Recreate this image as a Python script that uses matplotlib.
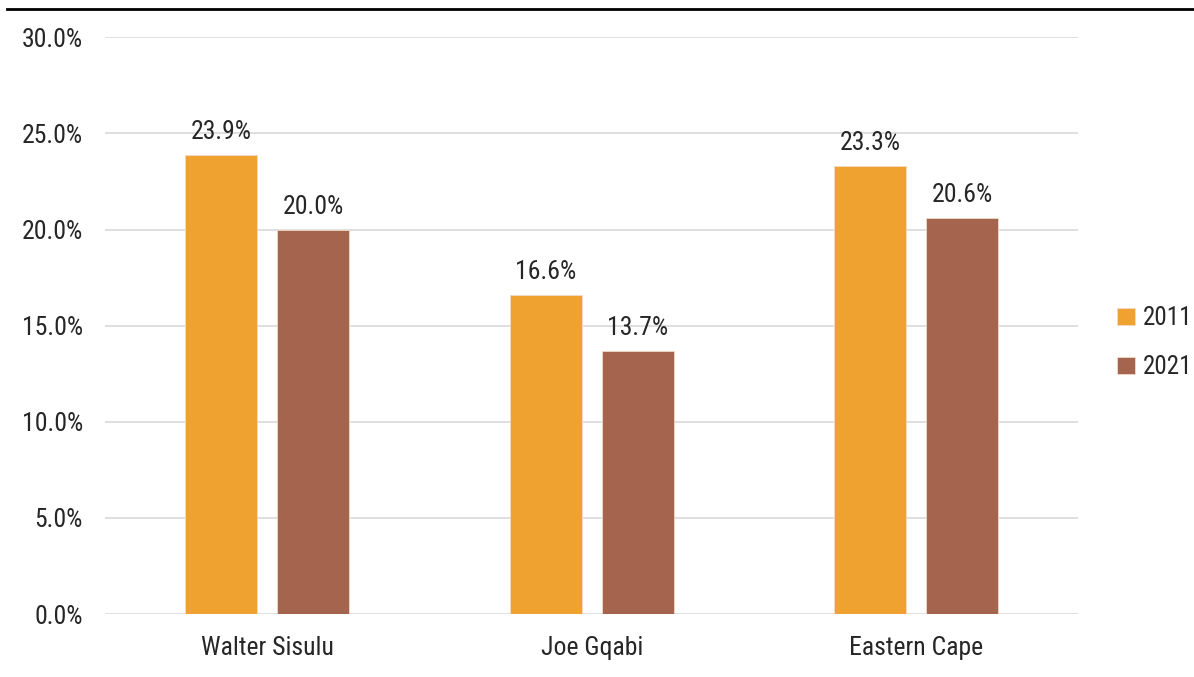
import matplotlib.pyplot as plt
import numpy as np
from matplotlib.lines import Line2D

categories = ["Walter Sisulu", "Joe Gqabi", "Eastern Cape"]
years = ["2011", "2021"]
values_2011 = [23.9, 16.6, 23.3]
values_2021 = [20.0, 13.7, 20.6]
y_ticks = [0, 5, 10, 15, 20, 25, 30]

COLORS = ["#EFA22F", "#A5644E"]
TEXT = "#262626"

plt.rcParams["font.family"] = ["Roboto Condensed", "DejaVu Sans"]

fig = plt.figure(figsize=(11.94, 6.77), dpi=100)
ax = fig.add_axes([0.088, 0.093, 0.815, 0.852])

x = np.arange(len(categories))
bar_w = 0.222
offset = 0.142

for i, (vals, year) in enumerate(zip([values_2011, values_2021], years)):
    pos = x + (offset if i else -offset)
    bars = ax.bar(pos, vals, width=bar_w, color=COLORS[i], label=year,
                  edgecolor="#F3D9C8", linewidth=0.6, zorder=3)
    for b, v in zip(bars, vals):
        ax.text(b.get_x() + b.get_width() / 2, v + 0.55, f"{v:.1f}%",
                ha="center", va="bottom", fontsize=18.5, color=TEXT)

ax.set_xlim(-0.5, 2.5)
ax.set_ylim(0, 30)
ax.set_yticks(y_ticks)
ax.set_yticklabels([f"{t:.1f}%" for t in y_ticks])
ax.set_xticks(x)
ax.set_xticklabels(categories)
ax.tick_params(axis="both", length=0, labelsize=18.5, colors=TEXT)
ax.tick_params(axis="y", pad=16)
ax.tick_params(axis="x", pad=16)
ax.grid(axis="y", color="#D9D9D9", linewidth=1.2, zorder=0)
for s in ax.spines.values():
    s.set_visible(False)

ax.legend(loc="center left", bbox_to_anchor=(1.04, 0.47), frameon=False,
          fontsize=18, handlelength=0.7, handleheight=0.7, handletextpad=0.35,
          labelspacing=1.0, borderaxespad=0, borderpad=0, labelcolor=TEXT)

# black rule at the top of the figure
fig.add_artist(Line2D([0.006, 1.0], [0.987, 0.987], color="black", linewidth=2))

fig.savefig("out.png", dpi=100)
